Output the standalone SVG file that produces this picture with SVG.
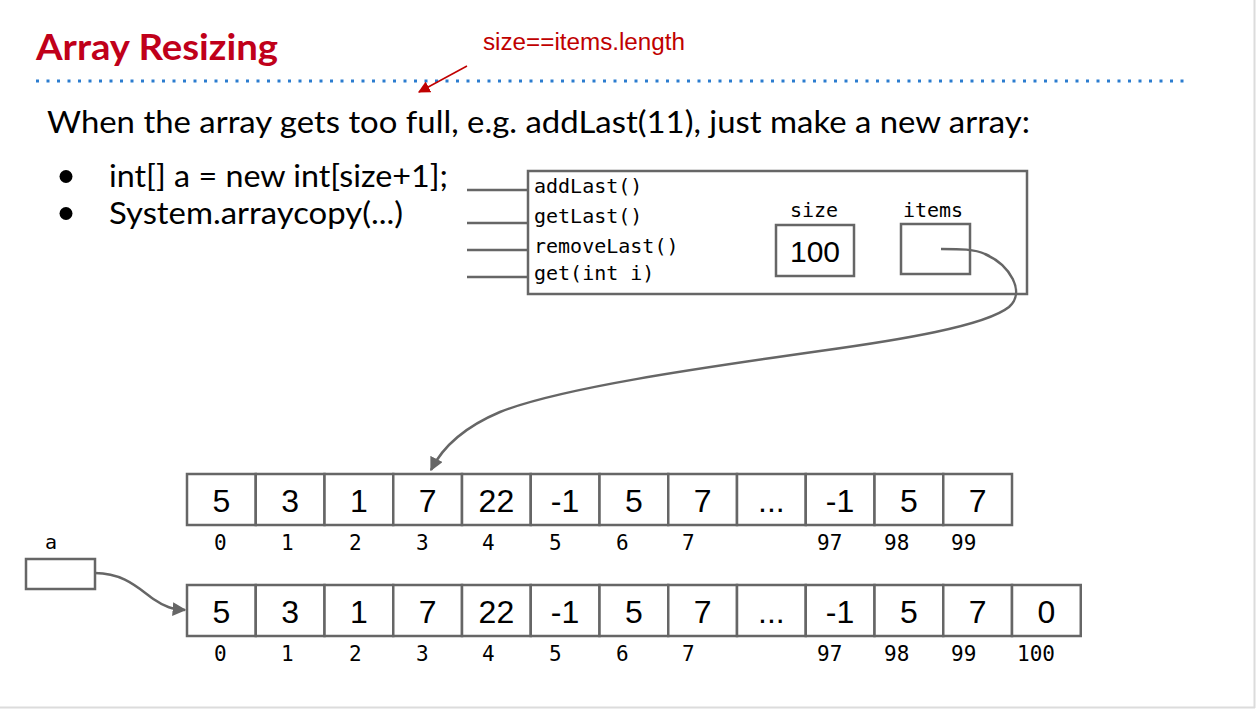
<svg xmlns="http://www.w3.org/2000/svg" width="1257" height="710" viewBox="0 0 1257 710">
<style>
.box{fill:#fff;stroke:#666;stroke-width:2.5}
.val{font-family:"Liberation Sans",Arial,sans-serif;font-size:32px;fill:#000;text-anchor:middle}
.idx{font-family:"DejaVu Sans Mono",monospace;font-size:21px;fill:#000}
.mono{font-family:"DejaVu Sans Mono",monospace;font-size:20px;fill:#000}
.body{font-family:Lato,"Open Sans",sans-serif;fill:#000}
.conn{fill:none;stroke:#666;stroke-width:2.5}
</style>
<defs>
<marker id="ah" viewBox="0 0 10 10" refX="9" refY="5" markerWidth="5.5" markerHeight="5.5" orient="auto" markerUnits="strokeWidth">
<path d="M0,0 L10,5 L0,10 z" fill="#666"/>
</marker>
<marker id="ahr" viewBox="0 0 10 10" refX="9" refY="5" markerWidth="8" markerHeight="8" orient="auto" markerUnits="strokeWidth">
<path d="M0,0 L10,5 L0,10 z" fill="#c00000"/>
</marker>
</defs>
<rect x="0" y="0" width="1257" height="710" fill="#fff"/>
<line x1="1254.5" y1="0" x2="1254.5" y2="708" stroke="#dcdcdc" stroke-width="2"/>
<line x1="0" y1="707.5" x2="1255" y2="707.5" stroke="#dcdcdc" stroke-width="2"/>

<g id="title">
<text x="36" y="60" font-family="Lato,'Open Sans',sans-serif" font-weight="bold" font-size="37" fill="#c0001a" textLength="242" lengthAdjust="spacingAndGlyphs">Array Resizing</text>
<line x1="36" y1="81" x2="1188" y2="81" stroke="#2b7ccf" stroke-width="3" stroke-dasharray="3 7.5"/>
</g>

<g id="note">
<text x="483" y="50" font-family="'Liberation Sans',Arial,sans-serif" font-size="23" fill="#c00000" textLength="202" lengthAdjust="spacingAndGlyphs">size==items.length</text>
<line x1="467" y1="66" x2="419" y2="92" stroke="#c00000" stroke-width="1.5" marker-end="url(#ahr)"/>
</g>

<g id="text">
<text class="body" x="47" y="133" font-size="31" textLength="983" lengthAdjust="spacingAndGlyphs">When the array gets too full, e.g. addLast(11), just make a new array:</text>
<circle cx="66" cy="176.5" r="6.5" fill="#000"/>
<circle cx="66" cy="213.5" r="6.5" fill="#000"/>
<text class="body" x="109" y="187" font-size="30" textLength="339" lengthAdjust="spacingAndGlyphs">int[] a = new int[size+1];</text>
<text class="body" x="109" y="224" font-size="30" textLength="294" lengthAdjust="spacingAndGlyphs">System.arraycopy(...)</text>
</g>

<g id="alist">
<rect class="box" x="528" y="171" width="499" height="123"/>
<line x1="467" y1="190" x2="528" y2="190" stroke="#666" stroke-width="2.5"/>
<line x1="467" y1="223" x2="528" y2="223" stroke="#666" stroke-width="2.5"/>
<line x1="467" y1="250" x2="528" y2="250" stroke="#666" stroke-width="2.5"/>
<line x1="467" y1="277" x2="528" y2="277" stroke="#666" stroke-width="2.5"/>
<text class="mono" x="534" y="193">addLast()</text>
<text class="mono" x="534" y="223">getLast()</text>
<text class="mono" x="534" y="253">removeLast()</text>
<text class="mono" x="534" y="280">get(int i)</text>
</g>

<g id="size">
<text class="mono" x="814" y="217" text-anchor="middle">size</text>
<rect class="box" x="776" y="225" width="78" height="51"/>
<text x="815" y="262" font-family="'Liberation Sans',Arial,sans-serif" font-size="30" text-anchor="middle">100</text>
</g>

<g id="items">
<text class="mono" x="933" y="217" text-anchor="middle">items</text>
<rect class="box" x="901" y="224" width="69" height="50"/>
</g>

<g id="arrayOld">
<rect class="box" x="187" y="474" width="68.75" height="51"/>
<rect class="box" x="255.75" y="474" width="68.75" height="51"/>
<rect class="box" x="324.5" y="474" width="68.75" height="51"/>
<rect class="box" x="393.25" y="474" width="68.75" height="51"/>
<rect class="box" x="462" y="474" width="68.75" height="51"/>
<rect class="box" x="530.75" y="474" width="68.75" height="51"/>
<rect class="box" x="599.5" y="474" width="68.75" height="51"/>
<rect class="box" x="668.25" y="474" width="68.75" height="51"/>
<rect class="box" x="737" y="474" width="68.75" height="51"/>
<rect class="box" x="805.75" y="474" width="68.75" height="51"/>
<rect class="box" x="874.5" y="474" width="68.75" height="51"/>
<rect class="box" x="943.25" y="474" width="68.75" height="51"/>
<text class="val" x="221.4" y="512">5</text>
<text class="val" x="290.1" y="512">3</text>
<text class="val" x="358.9" y="512">1</text>
<text class="val" x="427.6" y="512">7</text>
<text class="val" x="496.4" y="512">22</text>
<text class="val" x="565.1" y="512">-1</text>
<text class="val" x="633.9" y="512">5</text>
<text class="val" x="702.6" y="512">7</text>
<text class="val" x="771.4" y="512">...</text>
<text class="val" x="840.1" y="512">-1</text>
<text class="val" x="908.9" y="512">5</text>
<text class="val" x="977.6" y="512">7</text>
<text class="idx" x="214" y="550">0</text>
<text class="idx" x="281" y="550">1</text>
<text class="idx" x="349" y="550">2</text>
<text class="idx" x="416" y="550">3</text>
<text class="idx" x="482" y="550">4</text>
<text class="idx" x="549" y="550">5</text>
<text class="idx" x="616" y="550">6</text>
<text class="idx" x="682" y="550">7</text>
<text class="idx" x="817" y="550">97</text>
<text class="idx" x="884" y="550">98</text>
<text class="idx" x="951" y="550">99</text>
</g>

<g id="aVar">
<text class="mono" x="45" y="549">a</text>
<rect class="box" x="26" y="559" width="69" height="30"/>
</g>

<g id="arrayNew">
<rect class="box" x="187" y="585" width="68.75" height="51"/>
<rect class="box" x="255.75" y="585" width="68.75" height="51"/>
<rect class="box" x="324.5" y="585" width="68.75" height="51"/>
<rect class="box" x="393.25" y="585" width="68.75" height="51"/>
<rect class="box" x="462" y="585" width="68.75" height="51"/>
<rect class="box" x="530.75" y="585" width="68.75" height="51"/>
<rect class="box" x="599.5" y="585" width="68.75" height="51"/>
<rect class="box" x="668.25" y="585" width="68.75" height="51"/>
<rect class="box" x="737" y="585" width="68.75" height="51"/>
<rect class="box" x="805.75" y="585" width="68.75" height="51"/>
<rect class="box" x="874.5" y="585" width="68.75" height="51"/>
<rect class="box" x="943.25" y="585" width="68.75" height="51"/>
<rect class="box" x="1012" y="585" width="68.75" height="51"/>
<text class="val" x="221.4" y="623">5</text>
<text class="val" x="290.1" y="623">3</text>
<text class="val" x="358.9" y="623">1</text>
<text class="val" x="427.6" y="623">7</text>
<text class="val" x="496.4" y="623">22</text>
<text class="val" x="565.1" y="623">-1</text>
<text class="val" x="633.9" y="623">5</text>
<text class="val" x="702.6" y="623">7</text>
<text class="val" x="771.4" y="623">...</text>
<text class="val" x="840.1" y="623">-1</text>
<text class="val" x="908.9" y="623">5</text>
<text class="val" x="977.6" y="623">7</text>
<text class="val" x="1046.4" y="623">0</text>
<text class="idx" x="214" y="661">0</text>
<text class="idx" x="281" y="661">1</text>
<text class="idx" x="349" y="661">2</text>
<text class="idx" x="416" y="661">3</text>
<text class="idx" x="482" y="661">4</text>
<text class="idx" x="549" y="661">5</text>
<text class="idx" x="616" y="661">6</text>
<text class="idx" x="682" y="661">7</text>
<text class="idx" x="817" y="661">97</text>
<text class="idx" x="884" y="661">98</text>
<text class="idx" x="951" y="661">99</text>
<text class="idx" x="1017" y="661">100</text>
</g>

<g id="connectors">
<path class="conn" marker-end="url(#ah)" d="M941,249 C960,249 975,249 985,254 C1010,265 1026,292 1009,307 C985,326 900,340 820,351 C700,368 560,388 500,412 C462,428 442,448 431,470"/>
<path class="conn" marker-end="url(#ah)" d="M95,573 C125,573 140,590 155,600 C165,607 172,609 185,610"/>
</g>
</svg>
